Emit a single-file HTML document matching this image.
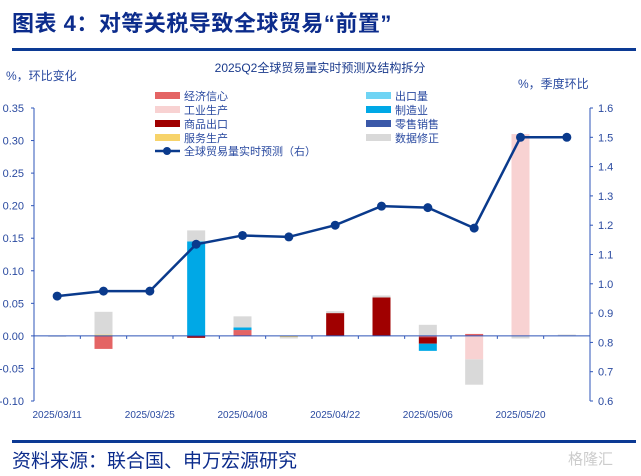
<!DOCTYPE html>
<html><head><meta charset="utf-8">
<style>
body{margin:0;width:641px;height:476px;background:#fff;overflow:hidden;font-family:"Liberation Sans","Noto Sans CJK SC",sans-serif;}
#title{position:absolute;left:12px;top:6px;font-size:22px;font-weight:bold;color:#0c2c8c;letter-spacing:0.5px;}
#tline{position:absolute;left:12px;top:48px;width:624px;height:3px;background:#0c3a94;}
#bline{position:absolute;left:12px;top:440px;width:624px;height:3px;background:#0c3a94;}
#foot{position:absolute;left:12px;top:446px;font-size:19px;color:#0c2c8c;}
#wm{position:absolute;left:568px;top:448px;font-size:15px;color:#ccc;}
svg{position:absolute;left:0;top:0;}
</style></head><body>
<div id="title">图表 4：对等关税导致全球贸易“前置”</div>
<div id="tline"></div>
<svg id="chart" width="641" height="476"></svg>
<div id="bline"></div>
<div id="foot">资料来源：联合国、申万宏源研究</div>
<div id="wm">格隆汇</div>
<script>
const categories=["2025/03/11","2025/03/18","2025/03/25","2025/04/01","2025/04/08","2025/04/15","2025/04/22","2025/04/29","2025/05/06","2025/05/13","2025/05/20","2025/05/27"];
const econ=[0,-0.020,0,0,0.009,0,0,0,-0.002,0.003,0,0];
const industry=[0,0,0,0,0,0,0,0,0,-0.036,0.310,0];
const goods=[0,0,0,-0.003,0,0,0.035,0.059,-0.010,0,0,0];
const services=[0,0.002,0,0,0,-0.002,0,0,0,0,0,0];
const exportsV=[0,0,0,0,0,0,0,0,0,0,0,0];
const manuf=[0,0,0,0.145,0.004,0,0,0,-0.011,0,0,0];
const retail=[0,0,0,0,0,0,0,0,0,0,0,0];
const revision=[-0.001,0.035,0,0.017,0.017,-0.002,0.003,0.003,0.017,-0.039,-0.004,0.002];
const nowcast=[0.958,0.975,0.975,1.135,1.165,1.16,1.2,1.265,1.26,1.19,1.5,1.5];
const leftTicks=[0.35,0.30,0.25,0.20,0.15,0.10,0.05,0.00,-0.05,-0.10];
const rightTicks=[1.6,1.5,1.4,1.3,1.2,1.1,1.0,0.9,0.8,0.7,0.6];
const series=[
 {name:"经济信心",v:econ,c:"#e46464"},{name:"工业生产",v:industry,c:"#f8d2d2"},
 {name:"商品出口",v:goods,c:"#a00000"},{name:"服务生产",v:services,c:"#f7d36a"},
 {name:"出口量",v:exportsV,c:"#6fd4f4"},{name:"制造业",v:manuf,c:"#00a8e6"},
 {name:"零售销售",v:retail,c:"#3a58a8"},{name:"数据修正",v:revision,c:"#d9d9d9"}];
const X0=34,X1=590,T=108,B=401;
const yL=v=>T+(0.35-v)/0.45*(B-T);
const yR=v=>T+(1.6-v)/1.0*(B-T);
const slot=(X1-X0)/categories.length;
const xC=i=>X0+slot*(i+0.5);
const svg=document.getElementById('chart');
const NS="http://www.w3.org/2000/svg";
function mk(t,a,p){const e=document.createElementNS(NS,t);for(const k in a)e.setAttribute(k,a[k]);(p||svg).appendChild(e);return e;}
const blue="#2e55b8",txt="#2a4aa0";
let e;
e=mk('text',{x:320,y:72,'text-anchor':'middle','font-size':12,fill:"#1a3a8c"});e.textContent="2025Q2全球贸易量实时预测及结构拆分";


e=mk('text',{x:6,y:80,'font-size':12,fill:txt});e.textContent="%，环比变化";


e=mk('text',{x:518,y:88,'font-size':12,fill:txt});e.textContent="%，季度环比";


e=mk('line',{x1:X0,y1:T,x2:X0,y2:B,stroke:blue,'stroke-width':1});


e=mk('line',{x1:X1,y1:T,x2:X1,y2:B,stroke:blue,'stroke-width':1});


leftTicks.forEach(v=>{const y=yL(v);mk('line',{x1:X0-3,y1:y,x2:X0,y2:y,stroke:blue});
 const t=mk('text',{x:X0-10,y:y+4,'text-anchor':'end','font-size':11,fill:txt});t.textContent=v.toFixed(2);
 
 });
rightTicks.forEach(v=>{const y=yR(v);mk('line',{x1:X1,y1:y,x2:X1+3,y2:y,stroke:blue});
 const t=mk('text',{x:X1+8,y:y+4,'font-size':11,fill:txt});t.textContent=v.toFixed(1);
 
 });
categories.forEach((c,i)=>{if(i%2===0){const t=mk('text',{x:xC(i),y:418,'text-anchor':'middle','font-size':10,fill:txt});t.textContent=c;
 
 }
 mk('line',{x1:X0+slot*i,y1:yL(0),x2:X0+slot*i,y2:yL(0)+3,stroke:blue});});
const bw=18;
categories.forEach((c,i)=>{let pos=0,neg=0;
 series.forEach(s=>{const v=s.v[i];if(!v)return;let y0,y1;
  if(v>0){y0=pos;y1=pos+v;pos=y1;}else{y0=neg;y1=neg+v;neg=y1;}
  const r=mk('rect',{x:xC(i)-bw/2,y:Math.min(yL(y0),yL(y1)),width:bw,height:Math.max(1,Math.abs(yL(y1)-yL(y0))),fill:s.c});
  
  });});
e=mk('line',{x1:X0,y1:yL(0),x2:X1,y2:yL(0),stroke:blue,'stroke-width':1});


e=mk('polyline',{points:nowcast.map((v,i)=>xC(i)+','+yR(v)).join(' '),fill:'none',stroke:'#0a3a8c','stroke-width':2.5});


nowcast.forEach((v,i)=>{const p=mk('circle',{cx:xC(i),cy:yR(v),r:4.5,fill:'#0a3a8c'});
 
 });
const leg=[[155,96,0],[155,110,1],[155,124,2],[155,138,3],[366,96,4],[366,110,5],[366,124,6],[366,138,7]];
leg.forEach(([x,y,k])=>{const s=series[k];
 const r=mk('rect',{x:x,y:y-4,width:25,height:7,fill:s.c});
 
 
 const t=mk('text',{x:x+29,y:y+4,'font-size':11,fill:txt});t.textContent=s.name;
 
 });
e=mk('line',{x1:155,y1:151,x2:180,y2:151,stroke:'#0a3a8c','stroke-width':2.5});


mk('circle',{cx:167,cy:151,r:4,fill:'#0a3a8c'});
e=mk('text',{x:184,y:155,'font-size':11,fill:txt});e.textContent="全球贸易量实时预测（右）";


</script>
</body></html>
